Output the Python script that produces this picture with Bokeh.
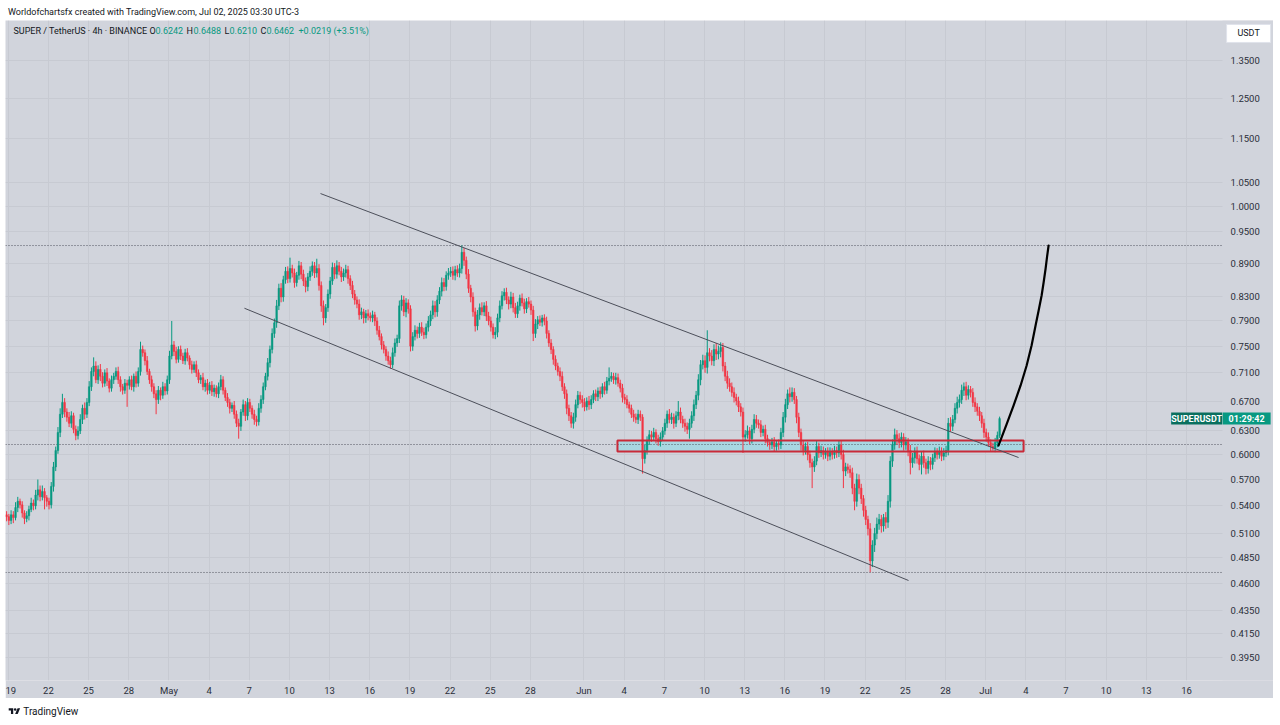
import numpy as np
import pandas as pd
from bokeh.plotting import figure
from bokeh.models import Range1d, FixedTicker, CustomJSTickFormatter, Label, Div, ColumnDataSource, Spacer
from bokeh.core.properties import value
from bokeh.layouts import column, row
from bokeh.embed import file_html
from bokeh.resources import INLINE

# ---------------- data (SUPER/USDT, 4h candles) ----------------
first_candle = "2025-04-18 21:00"
first_open = 0.530
close_px = [
    0.528,
    0.524, 0.530, 0.527, 0.538, 0.545, 0.541,
    0.532, 0.526, 0.529, 0.536, 0.543, 0.540,
    0.552, 0.558, 0.550, 0.556, 0.549, 0.545,
    0.541, 0.562, 0.585, 0.605, 0.628, 0.652,
    0.668, 0.655, 0.648, 0.640, 0.650, 0.632,
    0.624, 0.630, 0.645, 0.660, 0.652, 0.668,
    0.690, 0.712, 0.720, 0.700, 0.715, 0.705,
    0.695, 0.710, 0.698, 0.688, 0.700, 0.705,
    0.712, 0.700, 0.690, 0.685, 0.695, 0.692,
    0.700, 0.690, 0.705, 0.695, 0.712, 0.745,
    0.740, 0.728, 0.712, 0.700, 0.690, 0.680,
    0.672, 0.685, 0.678, 0.690, 0.684, 0.700,
    0.735, 0.752, 0.742, 0.730, 0.745, 0.735,
    0.728, 0.740, 0.732, 0.722, 0.715, 0.722,
    0.710, 0.700, 0.703, 0.690, 0.695, 0.685,
    0.692, 0.683, 0.688, 0.680, 0.690, 0.700,
    0.685, 0.675, 0.668, 0.660, 0.664, 0.652,
    0.640, 0.636, 0.655, 0.665, 0.650, 0.668,
    0.660, 0.652, 0.645, 0.642, 0.660, 0.672,
    0.690, 0.705, 0.725, 0.745, 0.770, 0.787,
    0.815, 0.845, 0.830, 0.860, 0.875, 0.862,
    0.880, 0.872, 0.855, 0.868, 0.885, 0.870,
    0.858, 0.848, 0.865, 0.875, 0.885, 0.872,
    0.880, 0.850, 0.815, 0.795, 0.812, 0.835,
    0.858, 0.882, 0.870, 0.885, 0.875, 0.865,
    0.872, 0.878, 0.862, 0.850, 0.835, 0.825,
    0.818, 0.800, 0.805, 0.795, 0.802, 0.798,
    0.795, 0.800, 0.790, 0.775, 0.765, 0.752,
    0.745, 0.735, 0.728, 0.722, 0.740, 0.755,
    0.762, 0.815, 0.825, 0.805, 0.820, 0.810,
    0.750, 0.765, 0.775, 0.770, 0.780, 0.772,
    0.768, 0.780, 0.790, 0.800, 0.815, 0.805,
    0.825, 0.840, 0.855, 0.848, 0.868, 0.872,
    0.875, 0.868, 0.878, 0.872, 0.880, 0.910,
    0.895, 0.870, 0.845, 0.830, 0.805, 0.782,
    0.800, 0.812, 0.805, 0.815, 0.798, 0.790,
    0.780, 0.768, 0.772, 0.795, 0.815, 0.832,
    0.838, 0.825, 0.818, 0.830, 0.812, 0.802,
    0.815, 0.828, 0.820, 0.810, 0.822, 0.818,
    0.808, 0.770, 0.785, 0.792, 0.788, 0.795,
    0.790, 0.770, 0.755, 0.745, 0.730, 0.720,
    0.712, 0.705, 0.690, 0.680, 0.660, 0.650,
    0.640, 0.648, 0.665, 0.678, 0.672, 0.668,
    0.662, 0.670, 0.665, 0.672, 0.680, 0.676,
    0.684, 0.680, 0.690, 0.685, 0.698, 0.702,
    0.705, 0.700, 0.703, 0.695, 0.688, 0.675,
    0.672, 0.665, 0.660, 0.652, 0.648, 0.645,
    0.652, 0.648, 0.595, 0.605, 0.618, 0.625,
    0.622, 0.628, 0.620, 0.616, 0.622, 0.630,
    0.640, 0.652, 0.645, 0.648, 0.640, 0.650,
    0.655, 0.645, 0.640, 0.636, 0.632, 0.640,
    0.650, 0.665, 0.678, 0.700, 0.722, 0.728,
    0.718, 0.740, 0.735, 0.728, 0.745, 0.738,
    0.742, 0.748, 0.720, 0.705, 0.695, 0.690,
    0.682, 0.675, 0.670, 0.662, 0.655, 0.622,
    0.625, 0.630, 0.620, 0.632, 0.645, 0.640,
    0.638, 0.628, 0.632, 0.620, 0.615, 0.612,
    0.616, 0.610, 0.614, 0.612, 0.628, 0.648,
    0.665, 0.680, 0.676, 0.682, 0.672, 0.648,
    0.628, 0.612, 0.605, 0.610, 0.600, 0.590,
    0.585, 0.592, 0.610, 0.602, 0.605, 0.600,
    0.603, 0.598, 0.604, 0.600, 0.605, 0.602,
    0.612, 0.600, 0.580, 0.585, 0.582, 0.578,
    0.560, 0.545, 0.570, 0.560, 0.548, 0.535,
    0.525, 0.515, 0.482, 0.498, 0.510, 0.520,
    0.525, 0.518, 0.527, 0.522, 0.545, 0.592,
    0.612, 0.625, 0.620, 0.615, 0.622, 0.612,
    0.616, 0.605, 0.590, 0.596, 0.604, 0.595,
    0.588, 0.598, 0.590, 0.583, 0.592, 0.588,
    0.596, 0.603, 0.600, 0.604, 0.598, 0.602,
    0.605, 0.640, 0.636, 0.645, 0.660, 0.668,
    0.672, 0.685, 0.690, 0.678, 0.686, 0.682,
    0.668, 0.662, 0.656, 0.650, 0.640, 0.628,
    0.622, 0.615, 0.610, 0.608, 0.615, 0.6242,
    0.6462,
]
# wick lengths above / below the body, in thousandths of a USDT
upper_wick_milli = [
    4,
    3, 5, 4, 6, 5, 3,   4, 3, 5, 4, 6, 4,   6, 12, 5, 7, 4, 3,   4, 5, 6, 5, 7, 8,
    12, 6, 5, 7, 6, 4,  5, 6, 7, 5, 8, 6,   8, 6, 13, 7, 6, 8,   6, 5, 7, 4, 6, 5,
    6, 7, 5, 4, 6, 5,   5, 6, 4, 7, 6, 12,  6, 5, 7, 4, 6, 5,    5, 6, 4, 7, 5, 6,
    8, 38, 6, 7, 5, 6,  5, 6, 7, 4, 6, 5,   6, 5, 4, 7, 5, 6,    5, 6, 5, 4, 6, 7,
    5, 4, 6, 5, 4, 6,   5, 6, 4, 7, 5, 6,   5, 4, 6, 5, 7, 6,    6, 5, 7, 6, 8, 7,
    10, 8, 9, 7, 8, 9,  20, 7, 8, 6, 9, 7,  8, 6, 7, 9, 8, 7,    18, 8, 7, 9, 6, 8,
    7, 9, 8, 10, 7, 8,  8, 9, 7, 6, 8, 7,   6, 8, 7, 5, 6, 7,    6, 7, 5, 6, 7, 5,
    6, 5, 7, 6, 8, 7,   6, 9, 8, 7, 8, 6,   6, 7, 8, 6, 7, 8,    7, 6, 8, 7, 9, 8,
    8, 7, 9, 8, 7, 9,   8, 9, 7, 8, 9, 13,  8, 7, 9, 6, 8, 7,    8, 7, 9, 6, 8, 7,
    7, 6, 8, 7, 9, 8,   7, 8, 6, 9, 7, 8,   7, 6, 8, 7, 6, 8,    6, 7, 8, 6, 7, 5,
    6, 7, 5, 6, 5, 6,   5, 6, 7, 5, 6, 5,   5, 6, 7, 6, 5, 6,    6, 5, 7, 6, 5, 6,
    5, 6, 5, 7, 6, 16,  6, 5, 7, 6, 5, 6,   5, 6, 4, 5, 6, 5,    6, 5, 4, 7, 5, 6,
    5, 6, 4, 5, 6, 5,   6, 5, 7, 6, 5, 6,   15, 6, 5, 6, 5, 6,   6, 7, 6, 8, 7, 9,
    8, 35, 7, 9, 8, 10, 9, 8, 7, 6, 8, 7,   6, 7, 5, 6, 5, 6,    6, 7, 5, 6, 7, 6,
    5, 6, 5, 6, 5, 4,   5, 6, 4, 5, 6, 7,   8, 6, 9, 7, 6, 5,    6, 5, 6, 5, 6, 5,
    5, 6, 7, 5, 6, 5,   5, 6, 5, 4, 6, 5,   6, 5, 6, 5, 4, 5,    6, 5, 7, 6, 5, 4,
    5, 4, 6, 5, 6, 7,   6, 5, 4, 6, 7, 6,   7, 8, 6, 7, 6, 5,    6, 5, 7, 6, 5, 6,
    5, 6, 7, 5, 6, 5,   5, 6, 5, 6, 5, 6,   6, 7, 8, 6, 7, 8,    7, 8, 6, 7, 6, 5,
    6, 7, 5, 6, 5, 6,   5, 6, 4, 5, 6, 5,
    2.6,
]
lower_wick_milli = [
    5,
    5, 4, 6, 3, 5, 4,   5, 6, 4, 5, 3, 5,   4, 6, 5, 4, 13, 6,   5, 4, 6, 5, 4, 6,
    5, 7, 6, 5, 6, 5,   6, 5, 4, 6, 7, 5,   5, 6, 7, 5, 6, 7,    6, 5, 7, 6, 5, 6,
    5, 6, 7, 6, 5, 30,  6, 5, 7, 6, 5, 6,   6, 7, 5, 6, 7, 6,    20, 6, 7, 5, 6, 5,
    6, 5, 7, 6, 5, 6,   5, 6, 5, 7, 6, 5,   6, 5, 6, 5, 7, 6,    5, 6, 7, 5, 6, 5,
    6, 5, 6, 7, 5, 6,   5, 16, 6, 5, 7, 6,  5, 6, 7, 6, 5, 6,    6, 5, 6, 7, 6, 7,
    8, 7, 9, 8, 7, 8,   7, 8, 9, 7, 8, 9,   9, 10, 8, 7, 8, 9,   8, 9, 10, 12, 8, 7,
    8, 7, 9, 8, 7, 9,   7, 8, 9, 8, 7, 8,   7, 8, 7, 9, 8, 7,    6, 7, 8, 7, 6, 7,
    6, 7, 6, 6, 5, 6,   6, 7, 8, 7, 9, 8,   8, 7, 6, 8, 7, 6,    7, 6, 7, 8, 7, 9,
    8, 7, 9, 8, 7, 8,   7, 8, 9, 7, 8, 9,   10, 9, 8, 9, 8, 9,   7, 8, 6, 7, 8, 7,
    7, 6, 7, 8, 7, 6,   8, 7, 9, 7, 8, 7,   7, 8, 6, 8, 7, 6,    8, 12, 7, 8, 6, 7,
    7, 8, 6, 7, 8, 6,   6, 7, 6, 7, 8, 7,   6, 7, 6, 5, 6, 7,    6, 5, 7, 6, 5, 6,
    6, 7, 5, 6, 5, 6,   5, 6, 7, 5, 6, 7,   6, 5, 6, 5, 6, 5,    6, 5, 18, 6, 5, 6,
    6, 5, 6, 5, 6, 5,   5, 6, 5, 6, 7, 5,   6, 5, 6, 7, 6, 12,   6, 7, 6, 7, 8, 7,
    8, 9, 8, 7, 8, 9,   8, 9, 8, 7, 8, 7,   6, 7, 6, 7, 6, 20,   6, 5, 7, 6, 5, 6,
    5, 6, 5, 6, 5, 6,   5, 6, 5, 6, 5, 6,   7, 6, 8, 7, 6, 8,    6, 7, 6, 5, 7, 6,
    25, 6, 5, 6, 5, 6,  5, 6, 5, 6, 5, 6,   5, 6, 20, 6, 5, 6,   7, 10, 6, 7, 6, 7,
    6, 7, 11, 6, 7, 6,  6, 7, 6, 7, 6, 7,   7, 6, 8, 7, 6, 7,    6, 7, 14, 6, 7, 6,
    7, 12, 6, 7, 6, 7,  6, 5, 6, 5, 6, 5,   5, 6, 7, 6, 5, 7,    7, 6, 8, 7, 6, 7,
    6, 7, 6, 7, 6, 7,   6, 5, 6, 3, 5, 6,
    3.2,
]

# axis ticks
price_ticks = [0.395, 0.415, 0.435, 0.46, 0.485, 0.51, 0.54, 0.57, 0.60, 0.63, 0.67,
               0.71, 0.75, 0.79, 0.83, 0.89, 0.95, 1.00, 1.05, 1.15, 1.25, 1.35]
date_ticks = ["2025-04-19", "2025-04-22", "2025-04-25", "2025-04-28", "2025-05-01",
              "2025-05-04", "2025-05-07", "2025-05-10", "2025-05-13", "2025-05-16",
              "2025-05-19", "2025-05-22", "2025-05-25", "2025-05-28", "2025-06-01",
              "2025-06-04", "2025-06-07", "2025-06-10", "2025-06-13", "2025-06-16",
              "2025-06-19", "2025-06-22", "2025-06-25", "2025-06-28", "2025-07-01",
              "2025-07-04", "2025-07-07", "2025-07-10", "2025-07-13", "2025-07-16"]

# drawings on the chart
level_prices = [0.9228, 0.6126, 0.4707]           # dotted horizontal levels
upper_channel_t = ["2025-05-12 07:40", "2025-07-03 11:00"]
upper_channel_p = [1.027, 0.5964]
lower_channel_t = ["2025-05-06 15:20", "2025-06-25 05:45"]
lower_channel_p = [0.811, 0.463]
zone_t = ["2025-06-03 12:00", "2025-07-03 20:00"]
zone_p = [0.6039, 0.6177]
path_t = ["2025-07-01 23:00", "2025-07-02 13:30", "2025-07-03 02:10", "2025-07-03 14:40",
          "2025-07-04 01:30", "2025-07-04 10:20", "2025-07-04 17:30", "2025-07-04 23:00",
          "2025-07-05 04:20", "2025-07-05 07:55", "2025-07-05 11:30", "2025-07-05 14:10",
          "2025-07-05 16:50"]
path_p = [0.6113, 0.6384, 0.6639, 0.6918, 0.7208, 0.7511, 0.7827, 0.8073,
          0.8326, 0.8551, 0.8801, 0.9022, 0.9228]

# view window: chart pane ends at chart_end, price scale column beyond it
x_view = ["2025-04-18 19:00", "2025-07-22 12:00"]
chart_end = "2025-07-18 16:35"
y_view = [0.37684, 1.4666]
price_label_t = "2025-07-19 07:00"      # where the price-scale labels start
last_price = 0.6462
symbol_box_t = "2025-07-16 18:15"
timer_box_t = "2025-07-20 11:50"
unit_box_t = "2025-07-20 15:20"
unit_box_p = 1.428

# ---------------- styling ----------------
BG = "#d1d4dc"
GRID = "#c7cad2"
UP = "#089981"
DOWN = "#f23645"
TXT = "#131722"
FONT = "Roboto"

# ---------------- build candles ----------------
times = pd.date_range(first_candle, periods=len(close_px), freq="4h")
c = np.array(close_px, dtype=float)
o = np.concatenate([[first_open], c[:-1]])
hi = np.maximum(o, c) + np.array(upper_wick_milli, dtype=float) / 1000.0
lo = np.minimum(o, c) - np.array(lower_wick_milli, dtype=float) / 1000.0
up = c >= o
src = ColumnDataSource(dict(
    t=times, o=o, c=c, hi=hi, lo=lo,
    top=np.maximum(o, c), bot=np.minimum(o, c),
    col=np.where(up, UP, DOWN),
))

T = pd.Timestamp
p = figure(width=1268, height=678, x_axis_type="datetime", y_axis_type="log",
           y_axis_location=None,
           x_range=Range1d(T(x_view[0]), T(x_view[1])),
           y_range=Range1d(y_view[0], y_view[1]),
           output_backend="svg", toolbar_location=None,
           min_border_left=0, min_border_right=0, min_border_top=0, min_border_bottom=18,
           background_fill_color=BG, border_fill_color=BG, outline_line_color=None)

# time axis
xt = FixedTicker(ticks=[T(d).value / 1e6 for d in date_ticks])
p.xaxis.ticker = xt
p.xaxis.formatter = CustomJSTickFormatter(code="""
const d = new Date(tick);
const m = ["Jan","Feb","Mar","Apr","May","Jun","Jul","Aug","Sep","Oct","Nov","Dec"];
if (d.getUTCDate() === 1) { return m[d.getUTCMonth()]; }
return String(d.getUTCDate());
""")
p.xaxis.axis_line_color = None
p.xaxis.major_tick_line_color = None
p.xaxis.minor_tick_line_color = None
p.xaxis.major_tick_out = 0
p.xaxis.major_tick_in = 0
p.xaxis.minor_tick_out = 0
p.xaxis.minor_tick_in = 0
p.xaxis.major_label_text_font = FONT
p.xaxis.major_label_text_font_size = "9.5px"
p.xaxis.major_label_text_color = "#2a2e39"
p.xaxis.major_label_standoff = 4
p.xgrid.ticker = xt
p.ygrid.ticker = FixedTicker(ticks=price_ticks)
p.grid.grid_line_color = GRID
p.grid.grid_line_width = 1

# zone fill
p.quad(left=[T(zone_t[0])], right=[T(zone_t[1])], bottom=[zone_p[0]], top=[zone_p[1]],
       fill_color="#a3d7e2", fill_alpha=0.9, line_color=None)

# dotted levels
for lv in level_prices:
    p.line(x=[T(x_view[0]), T(chart_end)], y=[lv, lv],
           line_color="#50535e", line_width=1, line_dash="1 2")

# candles
p.segment(x0="t", y0="hi", x1="t", y1="lo", source=src, line_color="col", line_width=1)
p.vbar(x="t", top="top", bottom="bot", width=4 * 3600 * 1000 * 0.72, source=src,
       fill_color="col", line_color="col", line_width=0.5)

# zone outline
p.quad(left=[T(zone_t[0])], right=[T(zone_t[1])], bottom=[zone_p[0]], top=[zone_p[1]],
       fill_color=None, line_color="#c92a39", line_width=2)

# channel
p.line(x=pd.to_datetime(upper_channel_t), y=upper_channel_p, line_color="#4c4f5a", line_width=1)
p.line(x=pd.to_datetime(lower_channel_t), y=lower_channel_p, line_color="#4c4f5a", line_width=1)

# projected path
p.line(x=pd.to_datetime(path_t), y=path_p, line_color="#000000", line_width=2.2,
       line_join="round", line_cap="round")

# price-scale column: cover the grid, then the tick labels
p.quad(left=[T(chart_end)], right=[T(x_view[1])], bottom=[y_view[0]], top=[y_view[1]],
       fill_color=BG, line_color=None)
p.text(x=[T(price_label_t)] * len(price_ticks), y=price_ticks,
       text=[f"{v:.4f}" for v in price_ticks],
       text_font=value(FONT), text_font_size="9.5px", text_color="#2a2e39",
       text_align="left", text_baseline="middle")

# last price tags
p.rect(x=[T(symbol_box_t)], y=[last_price], width=51, height=12,
       width_units="screen", height_units="screen", fill_color="#0a6f5e", line_color=None)
p.rect(x=[T(timer_box_t)], y=[last_price], width=48, height=12,
       width_units="screen", height_units="screen", fill_color=UP, line_color=None)
p.text(x=[T(symbol_box_t), T(timer_box_t)], y=[last_price, last_price],
       text=["SUPERUSDT", "01:29:42"], text_font=value(FONT), text_font_size="9px",
       text_font_style="bold", text_color="white", text_align="center", text_baseline="middle")

# currency box
p.rect(x=[T(unit_box_t)], y=[unit_box_p], width=44, height=18,
       width_units="screen", height_units="screen", fill_color="white", line_color="#e0e3eb")
p.text(x=[T(unit_box_t)], y=[unit_box_p], text=["USDT"], text_font=value(FONT),
       text_font_size="9px", text_color=TXT, text_align="center", text_baseline="middle")

# legend row (screen units relative to the frame)
legend_parts = [
    ("SUPER / TetherUS · 4h · BINANCE", TXT),
    ("O", TXT), ("0.6242", UP),
    ("H", TXT), ("0.6488", UP),
    ("L", TXT), ("0.6210", UP),
    ("C", TXT), ("0.6462", UP),
    ("+0.0219 (+3.51%)", UP),
]
legend_x = [8, 144, 150, 181, 188, 219, 224, 255, 261, 293]
for (txt, col), lx in zip(legend_parts, legend_x):
    p.add_layout(Label(x=lx, y=650, x_units="screen", y_units="screen", text=txt,
                       text_color=col, text_font=FONT, text_font_size="9px",
                       text_baseline="middle", text_align="left"))

header = Div(text="Worldofchartsfx created with TradingView.com, Jul 02, 2025 03:30 UTC-3",
             width=1280, height=20, margin=0,
             styles={"font-family": FONT, "font-size": "9px", "color": TXT,
                     "line-height": "24px", "white-space": "nowrap", "text-indent": "8px",
                     "overflow": "hidden"})
logo_svg = ('<svg width="13" height="9" viewBox="0 0 36 28" style="vertical-align:-1px">'
            '<path d="M14 22H7V11H0V4h14v18z" fill="#131722"/>'
            '<circle cx="20" cy="8" r="4" fill="#131722"/>'
            '<path d="M28 22h-8l7.5-18h8z" fill="#131722"/></svg>')
footer = Div(text=logo_svg + ' <span>TradingView</span>', width=1280, height=27, margin=0,
             styles={"font-family": FONT, "font-size": "10px", "color": TXT,
                     "line-height": "28px", "white-space": "nowrap", "text-indent": "8px",
                     "overflow": "hidden"})

middle = row(Spacer(width=5, height=678, margin=0), p, spacing=0)
layout = column(header, middle, footer, spacing=0)
open("out.html", "w").write(file_html(layout, INLINE))
